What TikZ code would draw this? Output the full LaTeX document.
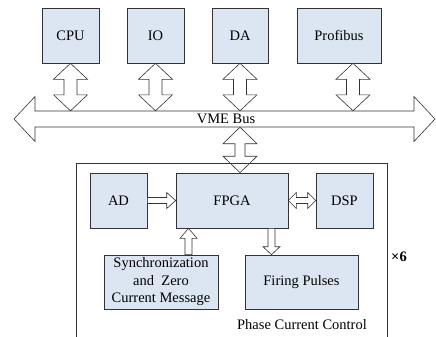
\documentclass[tikz,border=0pt]{standalone}
\usepackage{fontspec}
\setmainfont{Liberation Serif}
\usetikzlibrary{calc}
\definecolor{boxfill}{RGB}{220,230,242}

% #1 tail, #2 tip, #3 half shaft, #4 half head, #5 head length
\newcommand{\onearrow}[5]{%
  \path ($(#2)!#5!(#1)$) coordinate (hb);
  \draw[blk] ($(#1)!#3!90:(#2)$) -- ($(hb)!#3!90:(#2)$) -- ($(hb)!#4!90:(#2)$) -- (#2)
    -- ($(hb)!#4!-90:(#2)$) -- ($(hb)!#3!-90:(#2)$) -- ($(#1)!#3!-90:(#2)$) -- cycle;}
\newcommand{\dblarrow}[5]{%
  \path ($(#1)!#5!(#2)$) coordinate (ha) ($(#2)!#5!(#1)$) coordinate (hb);
  \draw[blk] (#1) -- ($(ha)!#4!90:(#2)$) -- ($(ha)!#3!90:(#2)$) -- ($(hb)!#3!90:(#2)$)
    -- ($(hb)!#4!90:(#2)$) -- (#2) -- ($(hb)!#4!-90:(#2)$) -- ($(hb)!#3!-90:(#2)$)
    -- ($(ha)!#3!-90:(#2)$) -- ($(ha)!#4!-90:(#2)$) -- cycle;}

\begin{document}
\begin{tikzpicture}[x=1pt, y=-1pt,
    every node/.style={font=\fontsize{14.5}{17.5}\selectfont, inner sep=0pt},
    box/.style={draw=black!80, fill=boxfill, line width=0.6pt},
    blk/.style={draw=black!80, fill=white, line width=0.6pt, line join=miter}]
    \useasboundingbox (0,0) rectangle (436,337);
    \node[box, minimum width=57pt, minimum height=55pt] (cpu) at (70.5,35.5) {CPU};
    \node[box, minimum width=57pt, minimum height=55pt] (io) at (155.5,35.5) {IO};
    \node[box, minimum width=56pt, minimum height=55pt] (da) at (240,35.5) {DA};
    \node[box, minimum width=84pt, minimum height=55pt] (prof) at (339,35.5) {Profibus};
    \coordinate (busw) at (14,119);
    \coordinate (buse) at (435,119);
    \dblarrow{busw}{buse}{8pt}{22.5pt}{21pt}
    \node[minimum width=379pt, minimum height=16pt] (bus) at (226,119) {VME Bus};
    \coordinate (p1) at ([xshift=14pt]prof.south);
    \foreach \t in {cpu.south,io.south,da.south,p1} {
        \coordinate (b) at (\t |- bus.north);
        \dblarrow{\t}{b}{6.5pt}{17pt}{16pt}
    }
    \node[box, minimum width=57pt, minimum height=55pt] (ad) at (118.5,200.5) {AD};
    \node[box, minimum width=112pt, minimum height=55pt] (fpga) at (232,200.5) {FPGA};
    \node[box, minimum width=57pt, minimum height=55pt] (dsp) at (344.5,200.5) {DSP};
    \node[box, minimum width=114pt, minimum height=54pt, align=center] (sync) at (161,282) {Synchronization\\and~~Zero\\Current Message};
    \node[box, minimum width=113pt, minimum height=54pt] (fire) at (301.5,282) {Firing Pulses};
    \coordinate (m1) at (da.south |- bus.south);
    \coordinate (m2) at (da.south |- fpga.north);
    \dblarrow{m1}{m2}{5pt}{17pt}{16.5pt}
    \onearrow{ad.east}{fpga.west}{3pt}{8pt}{9pt}
    \dblarrow{fpga.east}{dsp.west}{3pt}{8pt}{8pt}
    \coordinate (s1) at ([xshift=27.5pt]sync.north);
    \coordinate (s2) at (s1 |- fpga.south);
    \onearrow{s1}{s2}{3.5pt}{8.5pt}{10pt}
    \coordinate (f2) at ([xshift=-30pt]fire.north);
    \coordinate (f1) at (f2 |- fpga.south);
    \onearrow{f1}{f2}{3.5pt}{8.5pt}{8pt}
    \draw[draw=black!80, line width=0.6pt] (76,337) |- (387,163) -- (387,337);
    \node (pcc) at (302,325) {Phase Current Control};
    \node (x6) at (399,257) {\textbf{×6}};
\end{tikzpicture}
\end{document}
